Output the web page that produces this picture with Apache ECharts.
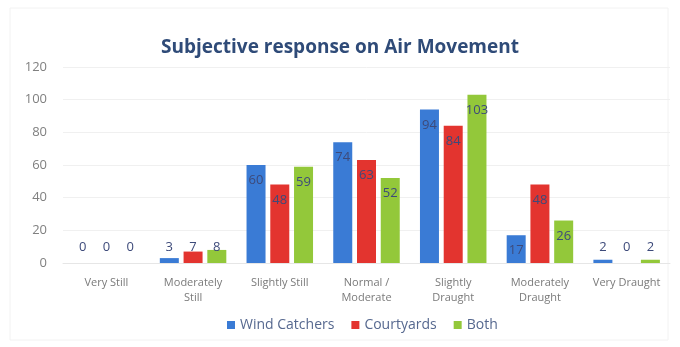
<!DOCTYPE html>
<html>
<head>
<meta charset="utf-8">
<script src="https://cdn.jsdelivr.net/npm/echarts@6/dist/echarts.min.js"></script>
<style>
  html, body { margin: 0; padding: 0; background: #ffffff; }
  #chart { width: 680px; height: 347px; }
</style>
</head>
<body>
<div id="chart"></div>
<script>
// Survey answers per air-movement category
const categories = ['Very Still', 'Moderately\nStill', 'Slightly Still', 'Normal /\nModerate', 'Slightly\nDraught', 'Moderately\nDraught', 'Very Draught'];
const windCatchers = [0, 3, 60, 74, 94, 17, 2];
const courtyards = [0, 7, 48, 63, 84, 48, 0];
const both = [0, 8, 59, 52, 103, 26, 2];
const yTicks = [0, 20, 40, 60, 80, 100, 120];

const colors = { wind: '#3a7bd5', court: '#e3342f', both: '#93c83a' };
const fontFamily = '"Open Sans", Lato, sans-serif';

// Small bars get their label just above the axis, taller ones inside the top end
function toData(values) {
  return values.map(v => ({
    value: v,
    label: v < 12 ? { position: 'insideBottom', distance: 9 } : { position: 'insideTop', distance: 9 }
  }));
}

function makeSeries(name, values, color) {
  return {
    name: name,
    type: 'bar',
    barWidth: 19,
    barGap: '25%',
    data: toData(values),
    itemStyle: { color: color },
    label: {
      show: true,
      color: '#3d4a7a',
      fontSize: 13,
      fontFamily: fontFamily
    }
  };
}

const chart = echarts.init(document.getElementById('chart'), null, { renderer: 'canvas' });
chart.setOption({
  animation: false,
  backgroundColor: '#ffffff',
  title: {
    text: 'Subjective response on Air Movement',
    left: 'center',
    top: 33,
    textStyle: { color: '#2f4b78', fontSize: 19, fontWeight: 'bold', fontFamily: fontFamily }
  },
  legend: {
    bottom: 10,
    left: 222,
    itemWidth: 8,
    itemHeight: 8,
    itemGap: 17,
    icon: 'rect',
    textStyle: { color: '#56688f', fontSize: 14, fontFamily: fontFamily }
  },
  grid: { left: 63, right: 10, top: 67, bottom: 84 },
  xAxis: {
    type: 'category',
    data: categories,
    axisLine: { lineStyle: { color: '#e6e6e6' } },
    axisTick: { show: false },
    axisLabel: { color: '#7a7a7a', fontSize: 11, lineHeight: 15, margin: 12, fontFamily: fontFamily, interval: 0 }
  },
  yAxis: {
    type: 'value',
    min: yTicks[0],
    max: yTicks[yTicks.length - 1],
    interval: yTicks[1] - yTicks[0],
    axisLine: { show: false },
    axisTick: { show: false },
    splitLine: { lineStyle: { color: '#f0f0f0' } },
    axisLabel: { color: '#808080', fontSize: 13, margin: 16, fontFamily: fontFamily }
  },
  graphic: [{
    type: 'rect',
    shape: { x: 10, y: 8, width: 658, height: 332 },
    style: { fill: 'none', stroke: '#f2f2f2', lineWidth: 1 },
    silent: true,
    z: -1
  }],
  series: [
    makeSeries('Wind Catchers', windCatchers, colors.wind),
    makeSeries('Courtyards', courtyards, colors.court),
    makeSeries('Both', both, colors.both)
  ]
});
</script>
</body>
</html>
